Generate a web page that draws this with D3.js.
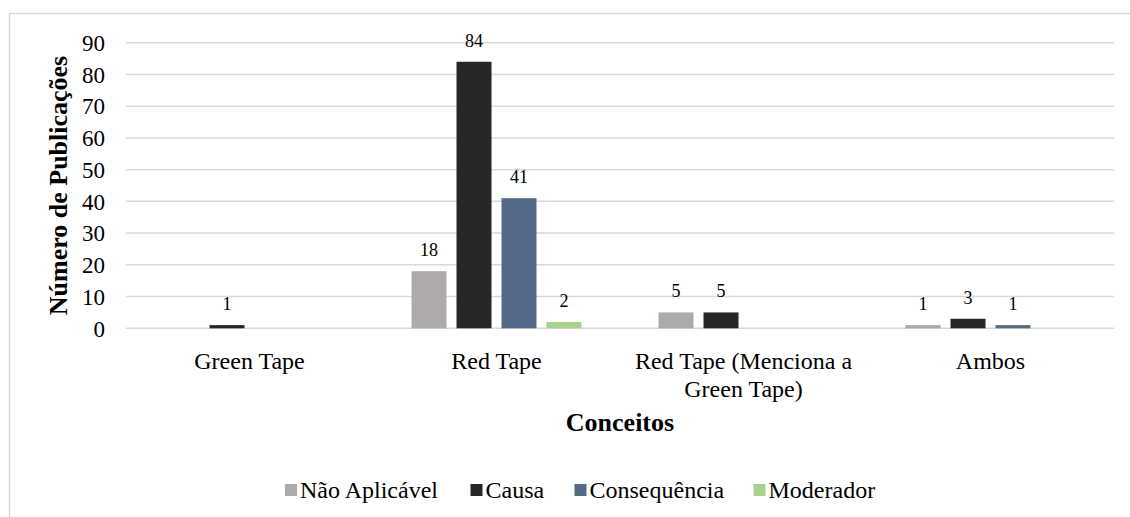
<!DOCTYPE html>
<html>
<head>
<meta charset="utf-8">
<script src="https://cdn.jsdelivr.net/npm/d3@7"></script>
<style>
  html, body { margin: 0; padding: 0; background: #fff; }
  svg { display: block; font-family: "Liberation Serif", "Times New Roman", serif; }
</style>
</head>
<body>
<svg id="chart" width="1130" height="517"></svg>
<script>
// Concepts on the x axis (each label may wrap onto two lines)
const categories = ["Green Tape", "Red Tape", "Red Tape (Menciona a Green Tape)", "Ambos"];
const categoryLines = [["Green Tape"], ["Red Tape"], ["Red Tape (Menciona a", "Green Tape)"], ["Ambos"]];

// Role of the concept in each publication
const seriesNames = ["Não Aplicável", "Causa", "Consequência", "Moderador"];
const seriesColors = ["#aeaaaa", "#262626", "#546a88", "#a9d18e"];

// Publication counts per concept (null = no bar)
const naoAplicavel = [null, 18, 5, 1];
const causa        = [1, 84, 5, 3];
const consequencia = [null, 41, null, 1];
const moderador    = [null, 2, null, null];

const yTicks = [0, 10, 20, 30, 40, 50, 60, 70, 80, 90];

const seriesValues = [naoAplicavel, causa, consequencia, moderador];

const svg = d3.select("#chart");

// outer frame
svg.append("rect")
  .attr("x", 9.5).attr("y", 13.5)
  .attr("width", 1140).attr("height", 520)
  .attr("fill", "none").attr("stroke", "#d9d9d9").attr("stroke-width", 1.5);

const plot = { left: 126, right: 1114, top: 42.7, bottom: 328.3 };

const y = d3.scaleLinear().domain([0, 90]).range([plot.bottom, plot.top]);

const x0 = d3.scaleBand()
  .domain(categories)
  .range([plot.left, plot.right])
  .paddingInner(0.312)
  .paddingOuter(0.156);

const x1 = d3.scaleBand()
  .domain(seriesNames)
  .range([0, x0.bandwidth()])
  .paddingInner(0.222)
  .paddingOuter(0);

// gridlines
svg.append("g")
  .selectAll("line")
  .data(yTicks)
  .join("line")
  .attr("x1", plot.left).attr("x2", plot.right)
  .attr("y1", d => y(d)).attr("y2", d => y(d))
  .attr("stroke", "#d9d9d9").attr("stroke-width", 1.5);

// y tick labels
const yAxis = d3.axisLeft(y).tickValues(yTicks).tickSize(0).tickPadding(0);
const gy = svg.append("g").attr("transform", "translate(105,0)").call(yAxis);
gy.attr("font-family", null);
gy.select(".domain").remove();
gy.selectAll("text")
  .attr("font-family", "Liberation Serif, Times New Roman, serif")
  .attr("font-size", 23).attr("fill", "#000")
  .attr("dy", "0.34em");

// y axis title
svg.append("text")
  .attr("transform", `translate(67,${(plot.top + plot.bottom) / 2}) rotate(-90)`)
  .attr("text-anchor", "middle")
  .attr("font-size", 26).attr("font-weight", "bold").attr("fill", "#000")
  .text("Número de Publicações");

// bars
const groups = svg.append("g")
  .selectAll("g")
  .data(categories)
  .join("g")
  .attr("transform", d => `translate(${x0(d)},0)`);

const cells = groups.selectAll("g.cell")
  .data((d, i) => seriesNames.map((s, j) => ({ series: s, j, value: seriesValues[j][i] })).filter(e => e.value != null))
  .join("g").attr("class", "cell");

cells.append("rect")
  .attr("x", d => x1(d.series))
  .attr("width", x1.bandwidth())
  .attr("y", d => y(d.value))
  .attr("height", d => y(0) - y(d.value))
  .attr("fill", d => seriesColors[d.j]);

cells.append("text")
  .attr("x", d => x1(d.series) + x1.bandwidth() / 2)
  .attr("y", d => y(d.value) - 15)
  .attr("text-anchor", "middle")
  .attr("font-size", 18).attr("fill", "#000")
  .text(d => d.value);

// category labels
const catLabels = svg.append("g")
  .selectAll("text")
  .data(categories)
  .join("text")
  .attr("text-anchor", "middle")
  .attr("font-size", 24).attr("fill", "#000")
  .attr("x", d => x0(d) + x0.bandwidth() / 2)
  .attr("y", 369);
catLabels.selectAll("tspan")
  .data((d, i) => categoryLines[i])
  .join("tspan")
  .attr("x", function () { return d3.select(this.parentNode).attr("x"); })
  .attr("dy", (d, i) => i === 0 ? 0 : 28)
  .text(d => d);

// x axis title
svg.append("text")
  .attr("x", (plot.left + plot.right) / 2)
  .attr("y", 431)
  .attr("text-anchor", "middle")
  .attr("font-size", 26).attr("font-weight", "bold").attr("fill", "#000")
  .text("Conceitos");

// legend
const legendX = [285, 470.5, 574.5, 753.5];
const legend = svg.append("g")
  .selectAll("g")
  .data(seriesNames)
  .join("g")
  .attr("transform", (d, i) => `translate(${legendX[i]},490)`);
legend.append("rect")
  .attr("x", 0).attr("y", -6)
  .attr("width", 12).attr("height", 12)
  .attr("fill", (d, i) => seriesColors[i]);
legend.append("text")
  .attr("x", 15).attr("y", 8)
  .attr("font-size", 24).attr("fill", "#000")
  .text(d => d);
</script>
</body>
</html>
